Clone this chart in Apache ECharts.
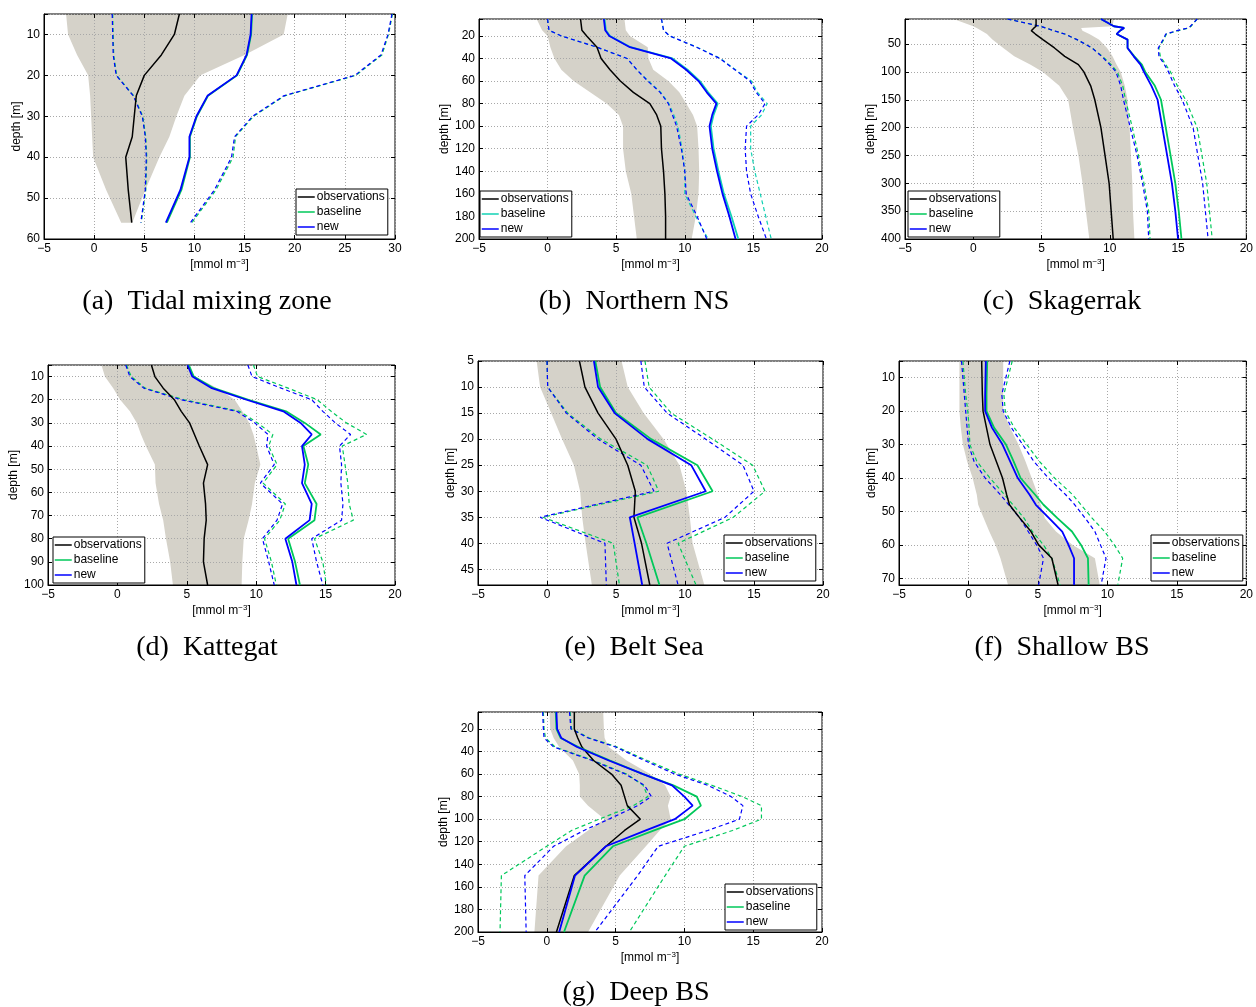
<!DOCTYPE html>
<html>
<head>
<meta charset="utf-8">
<script src="https://cdn.jsdelivr.net/npm/echarts@6/dist/echarts.min.js"></script>
<style>
  html, body { margin: 0; background: #fff; }
  #chart { width: 1256px; height: 1007px; }
</style>
</head>
<body>
<div id="chart"></div>
<script>
// (a) Tidal mixing zone
const aDepth = [5, 10, 15, 20, 25, 30, 35, 40, 48, 56];
const aObs = [8.5, 8.0, 6.7, 5.0, 4.2, 4.0, 3.8, 3.15, 3.4, 3.75];
const aBase = [15.75, 15.65, 15.25, 14.25, 11.35, 10.25, 9.55, 9.55, 8.7, 7.25];
const aNew = [15.7, 15.6, 15.2, 14.2, 11.3, 10.2, 9.5, 9.5, 8.6, 7.15];
const aBaseLo = [1.85, 1.9, 1.95, 2.25, 3.95, 4.85, 5.15, 5.25, 5.15, 4.7];
const aNewLo = [1.8, 1.85, 1.9, 2.2, 3.9, 4.8, 5.1, 5.2, 5.1, 4.65];
const aBaseHi = [29.75, 29.35, 28.7, 26.1, 19.0, 15.9, 14.1, 13.85, 12.15, 9.75];
const aNewHi = [29.7, 29.3, 28.6, 26.0, 18.9, 15.8, 14.0, 13.7, 12.0, 9.6];
const aBandLo = [-2.8, -2.6, -1.7, -0.6, -0.4, -0.3, -0.2, -0.1, 1.2, 2.7];
const aBandHi = [19.3, 18.9, 15.0, 10.6, 9.0, 8.2, 7.5, 6.5, 5.1, 3.8];

// (b) Northern NS
const bDepth = [5, 15, 20, 30, 40, 50, 60, 70, 80, 90, 100, 120, 140, 160, 180, 200];
const bObs = [2.4, 2.5, 2.85, 3.6, 3.9, 4.55, 5.3, 6.25, 7.45, 7.95, 8.25, 8.3, 8.45, 8.55, 8.6, 8.6];
const bBase = [4.15, 4.25, 4.55, 6.05, 9.1, 10.2, 11.1, 11.7, 12.4, 12.1, 11.9, 12.1, 12.45, 12.85, 13.4, 13.9];
const bNew = [4.1, 4.2, 4.5, 6.0, 9.0, 10.1, 11.0, 11.6, 12.3, 12.0, 11.8, 12.0, 12.35, 12.75, 13.25, 13.7];
const bBaseLo = [0, 0.1, 1.0, 3.6, 5.8, 6.5, 7.35, 8.25, 8.85, 9.2, 9.5, 9.8, 10.0, 10.0, 10.8, 11.7];
const bNewLo = [0, 0.1, 1.0, 3.6, 5.8, 6.5, 7.3, 8.2, 8.8, 9.1, 9.4, 9.75, 10.0, 10.1, 10.9, 11.6];
const bBaseHi = [8.3, 8.45, 8.9, 10.9, 12.6, 13.7, 14.85, 15.3, 16.0, 15.6, 14.8, 14.8, 15.1, 15.5, 15.9, 16.3];
const bNewHi = [8.3, 8.45, 8.9, 10.85, 12.55, 13.65, 14.75, 15.2, 15.85, 15.35, 14.5, 14.4, 14.5, 14.8, 15.35, 15.95];
const bBandLo = [-0.8, -0.4, 0, 0.2, 0.5, 1.0, 1.9, 3.1, 4.3, 5.2, 5.5, 5.5, 5.7, 6.1, 6.3, 6.5];
const bBandHi = [5.6, 5.7, 6.0, 7.3, 7.35, 7.7, 8.8, 9.6, 10.1, 10.6, 10.9, 11.0, 11.05, 11.0, 10.8, 10.5];

// (c) Skagerrak
const cDepth = [5, 18, 21, 26, 32, 42, 57, 72, 87, 100, 125, 150, 200, 250, 300, 350, 400];
const cObs = [4.6, 4.6, 4.45, 4.25, 4.55, 5.1, 5.95, 6.7, 7.7, 8.1, 8.6, 8.9, 9.35, 9.65, 9.95, 10.1, 10.25];
const cBase = [9.35, 10.3, 11.05, 10.75, 10.5, 11.3, 11.3, 11.8, 12.35, 12.6, 13.3, 13.75, 14.1, 14.45, 14.8, 15.05, 15.25];
const cNew = [9.35, 10.3, 11.05, 10.75, 10.5, 11.3, 11.3, 11.75, 12.25, 12.5, 13.05, 13.5, 13.85, 14.2, 14.55, 14.8, 15.0];
const cBaseLo = [2.5, 4.9, 5.3, 5.9, 6.7, 7.6, 8.7, 9.45, 10.1, 10.55, 10.95, 11.15, 11.65, 12.1, 12.5, 12.85, 12.95];
const cNewLo = [2.5, 4.9, 5.3, 5.9, 6.7, 7.6, 8.7, 9.4, 10.0, 10.45, 10.8, 11.0, 11.5, 12.0, 12.4, 12.75, 12.85];
const cBaseHi = [16.4, 15.95, 15.8, 15.0, 14.15, 13.95, 13.6, 13.7, 14.1, 14.45, 14.95, 15.55, 16.4, 16.75, 17.1, 17.3, 17.5];
const cNewHi = [16.4, 15.9, 15.75, 14.9, 14.1, 13.9, 13.55, 13.6, 14.0, 14.3, 14.75, 15.3, 16.1, 16.45, 16.8, 17.0, 17.2];
const cBandLo = [-1.45, 0, 0.25, 0.6, 1.0, 1.4, 2.2, 3.0, 4.2, 5.1, 6.3, 6.95, 7.3, 7.7, 8.0, 8.25, 8.5];
const cBandHi = [10.3, 10.2, 7.9, 8.0, 8.5, 9.2, 9.8, 10.2, 10.5, 10.8, 11.1, 11.3, 11.45, 11.55, 11.65, 11.7, 11.8];

// (d) Kattegat
const dDepth = [5, 10, 15, 20, 25, 30, 35, 40, 48, 56, 65, 72, 80, 90, 100];
const dObs = [2.45, 2.7, 3.3, 4.1, 4.6, 5.2, 5.55, 5.9, 6.5, 6.2, 6.35, 6.4, 6.25, 6.2, 6.5];
const dBase = [5.15, 5.5, 6.95, 9.45, 12.15, 13.5, 14.65, 13.4, 13.75, 13.5, 14.35, 14.2, 12.3, 12.8, 13.15];
const dNew = [5.05, 5.4, 6.8, 9.3, 11.95, 13.2, 14.0, 13.3, 13.5, 13.3, 14.0, 13.85, 12.1, 12.6, 12.9];
const dBaseLo = [0.65, 1.0, 2.0, 4.8, 8.8, 10.1, 11.2, 10.9, 11.5, 10.5, 12.1, 11.7, 10.6, 11.1, 11.45];
const dNewLo = [0.6, 0.9, 1.9, 4.6, 8.6, 9.9, 10.85, 10.75, 11.3, 10.3, 11.9, 11.5, 10.45, 10.9, 11.3];
const dBaseHi = [9.8, 10.1, 12.3, 14.4, 15.4, 16.5, 17.95, 16.2, 16.4, 16.6, 16.7, 17.0, 14.2, 14.8, 15.05];
const dNewHi = [9.4, 9.7, 11.8, 14.0, 14.8, 15.7, 16.8, 16.0, 16.15, 16.1, 16.25, 16.15, 14.0, 14.35, 14.8];
const dBandLo = [-1.15, -0.9, -0.3, 0.2, 0.9, 1.4, 1.7, 2.05, 2.7, 2.75, 3.0, 3.3, 3.5, 3.8, 4.0];
const dBandHi = [5.0, 5.6, 7.2, 8.45, 9.0, 9.5, 9.8, 10.0, 10.3, 9.9, 9.7, 9.45, 9.1, 9.0, 8.95];

// (e) Belt Sea
const eDepth = [5, 10, 15, 20, 25, 30, 35, 40, 48];
const eObs = [2.35, 2.75, 3.7, 5.0, 5.85, 6.4, 6.3, 6.85, 7.45];
const eBase = [3.5, 3.85, 5.0, 7.55, 10.9, 12.0, 6.55, 7.2, 8.15];
const eNew = [3.4, 3.7, 4.9, 7.3, 10.45, 11.5, 6.0, 6.35, 6.9];
const eBaseLo = [0, 0.05, 1.5, 3.9, 7.25, 8.1, -0.3, 4.8, 5.25];
const eNewLo = [0, 0.05, 1.4, 3.7, 6.8, 7.75, -0.5, 4.2, 4.3];
const eBaseHi = [7.1, 7.4, 9.0, 12.0, 14.9, 15.8, 13.5, 9.5, 10.8];
const eNewHi = [6.8, 7.05, 8.7, 11.5, 14.2, 15.0, 12.9, 8.7, 9.5];
const eBandLo = [-0.75, -0.5, 0.3, 1.1, 1.95, 2.4, 2.55, 2.8, 3.25];
const eBandHi = [5.4, 5.85, 7.0, 8.45, 9.6, 10.1, 10.35, 10.55, 11.4];

// (f) Shallow BS
const fDepth = [5, 15, 20, 25, 30, 35, 40, 45, 48, 52, 56, 60, 64, 72];
const fObs = [0.95, 1.0, 1.05, 1.3, 1.55, 2.0, 2.45, 2.75, 2.95, 3.7, 4.5, 5.05, 6.0, 6.45];
const fBase = [1.35, 1.3, 1.3, 1.85, 2.7, 3.25, 3.75, 4.8, 5.4, 6.4, 7.45, 8.1, 8.6, 8.65];
const fNew = [1.25, 1.2, 1.2, 1.7, 2.45, 3.0, 3.55, 4.4, 4.85, 5.8, 6.75, 7.2, 7.6, 7.6];
const fBaseLo = [-0.4, -0.2, -0.05, 0.05, 0.1, 0.6, 1.55, 2.6, 3.2, 4.0, 4.6, 5.4, 6.0, 6.6];
const fNewLo = [-0.5, -0.3, -0.2, -0.1, 0.0, 0.4, 1.2, 2.3, 2.9, 3.7, 4.3, 4.9, 5.4, 5.05];
const fBaseHi = [3.15, 2.55, 2.65, 3.3, 4.2, 5.1, 6.2, 7.5, 8.1, 8.9, 9.8, 10.5, 11.1, 10.75];
const fNewHi = [2.98, 2.4, 2.5, 3.1, 3.9, 4.7, 5.75, 7.0, 7.65, 8.4, 9.1, 9.5, 9.9, 9.55];
const fBandLo = [-0.65, -0.65, -0.65, -0.55, -0.4, -0.1, 0.3, 0.6, 0.7, 1.1, 1.5, 1.95, 2.3, 2.85];
const fBandHi = [2.5, 2.5, 2.5, 3.0, 3.6, 4.1, 4.55, 5.0, 5.2, 5.5, 6.3, 7.5, 9.1, 9.45];

// (g) Deep BS
const gDepth = [5, 20, 28, 36, 48, 60, 70, 80, 88, 100, 110, 124, 150, 200];
const gObs = [2.0, 2.0, 2.25, 2.55, 3.4, 4.7, 5.4, 5.65, 5.85, 6.8, 5.65, 4.3, 2.0, 0.7];
const gBase = [0.65, 0.7, 1.0, 2.3, 4.6, 7.0, 9.2, 10.9, 11.2, 10.0, 7.8, 4.8, 2.75, 1.25];
const gNew = [0.7, 0.75, 1.05, 2.2, 4.5, 7.0, 9.1, 10.0, 10.6, 9.3, 7.2, 4.3, 2.05, 0.9];
const gBaseLo = [-0.25, -0.2, -0.1, 0.6, 3.4, 5.8, 7.0, 7.35, 6.3, 3.8, 1.8, 0.0, -3.3, -3.4];
const gNewLo = [-0.3, -0.25, -0.2, 0.5, 3.3, 5.7, 7.1, 7.6, 6.6, 4.5, 2.7, 0.5, -1.6, -1.5];
const gBaseHi = [1.7, 1.8, 3.1, 5.1, 7.3, 9.6, 12.0, 14.2, 15.6, 15.6, 13.5, 10.0, 8.6, 6.0];
const gNewHi = [1.65, 1.75, 3.0, 5.0, 7.1, 9.3, 11.7, 13.4, 14.25, 14.0, 11.7, 8.1, 6.6, 3.5];
const gBandLo = [0.2, 0.25, 0.5, 0.9, 1.9, 2.35, 2.4, 2.4, 3.0, 4.2, 3.0, 1.4, -0.6, -0.9];
const gBandHi = [4.1, 4.15, 4.2, 4.5, 5.8, 7.5, 8.6, 9.0, 8.8, 9.0, 8.2, 7.2, 5.3, 3.0];

const GRAY = '#d5d2c9';
const GREEN = '#00c85a';
const TEAL = '#12d2b4';
const BLUE = '#0000ff';
const SANS = '"Liberation Sans", Arial, sans-serif';

const panels = [
  { caption: '(a)  Tidal mixing zone', cap: [207, 302], grid: [44, 14, 351, 225], xMax: 30, yMax: 60, yStep: 10, legend: [296, 189], green: GREEN,
    depth: aDepth, obs: aObs, base: aBase, neu: aNew, baseLo: aBaseLo, newLo: aNewLo, baseHi: aBaseHi, newHi: aNewHi, bandLo: aBandLo, bandHi: aBandHi },
  { caption: '(b)  Northern NS', cap: [634, 302], grid: [479, 19, 343, 220], xMax: 20, yMax: 200, yStep: 20, legend: [480, 191], green: TEAL,
    depth: bDepth, obs: bObs, base: bBase, neu: bNew, baseLo: bBaseLo, newLo: bNewLo, baseHi: bBaseHi, newHi: bNewHi, bandLo: bBandLo, bandHi: bBandHi },
  { caption: '(c)  Skagerrak', cap: [1062, 302], grid: [905, 19, 345, 220], xMax: 20, yMax: 400, yStep: 50, legend: [908, 191], green: GREEN,
    depth: cDepth, obs: cObs, base: cBase, neu: cNew, baseLo: cBaseLo, newLo: cNewLo, baseHi: cBaseHi, newHi: cNewHi, bandLo: cBandLo, bandHi: cBandHi },
  { caption: '(d)  Kattegat', cap: [207, 648], grid: [48, 365, 347, 220], xMax: 20, yMax: 100, yStep: 10, legend: [53, 537], green: GREEN,
    depth: dDepth, obs: dObs, base: dBase, neu: dNew, baseLo: dBaseLo, newLo: dNewLo, baseHi: dBaseHi, newHi: dNewHi, bandLo: dBandLo, bandHi: dBandHi },
  { caption: '(e)  Belt Sea', cap: [634, 648], grid: [478, 361, 345, 224], xMax: 20, yMax: 48, yStep: 5, legend: [724, 535], green: GREEN,
    depth: eDepth, obs: eObs, base: eBase, neu: eNew, baseLo: eBaseLo, newLo: eNewLo, baseHi: eBaseHi, newHi: eNewHi, bandLo: eBandLo, bandHi: eBandHi },
  { caption: '(f)  Shallow BS', cap: [1062, 648], grid: [899, 361, 350, 224], xMax: 20, yMax: 72, yStep: 10, legend: [1151, 535], green: GREEN,
    depth: fDepth, obs: fObs, base: fBase, neu: fNew, baseLo: fBaseLo, newLo: fNewLo, baseHi: fBaseHi, newHi: fNewHi, bandLo: fBandLo, bandHi: fBandHi },
  { caption: '(g)  Deep BS', cap: [636, 993], grid: [478, 712, 344, 220], xMax: 20, yMax: 200, yStep: 20, legend: [725, 884], green: GREEN,
    depth: gDepth, obs: gObs, base: gBase, neu: gNew, baseLo: gBaseLo, newLo: gNewLo, baseHi: gBaseHi, newHi: gNewHi, bandLo: gBandLo, bandHi: gBandHi },
];

const onStep = (v, step) => Math.abs(v / step - Math.round(v / step)) < 1e-6;
const minus = (v) => String(v).replace('-', '\u2212');
const tick = { show: true, inside: true, length: 4, lineStyle: { color: '#000' } };
const dotted = { show: true, lineStyle: { color: '#a8a8a8', type: [1, 2], width: 1 } };

const grids = [], xAxes = [], yAxes = [], series = [], legends = [], texts = [];

panels.forEach((p, k) => {
  grids.push({ left: p.grid[0], top: p.grid[1], width: p.grid[2], height: p.grid[3],
    show: true, borderColor: '#000', borderWidth: 1, containLabel: false });

  const xBase = { type: 'value', gridIndex: k, min: -5, max: p.xMax, minInterval: 5, maxInterval: 5 };
  xAxes.push({ ...xBase, position: 'bottom',
    axisLine: { show: true, onZero: false, lineStyle: { color: '#000' } }, axisTick: tick, splitLine: dotted,
    axisLabel: { color: '#000', fontSize: 12, fontFamily: SANS, margin: 4, formatter: minus },
    name: '{a|[mmol m}{s|\u22123}{a|]}', nameLocation: 'middle', nameGap: 19,
    nameTextStyle: { rich: { a: { fontSize: 12, fontFamily: SANS, color: '#000', lineHeight: 14 },
      s: { fontSize: 8, fontFamily: SANS, color: '#000', verticalAlign: 'top', lineHeight: 14 } } } });
  xAxes.push({ ...xBase, position: 'top', axisLine: { show: false, onZero: false }, axisTick: tick,
    axisLabel: { show: false }, splitLine: { show: false } });

  const yBase = { type: 'value', gridIndex: k, inverse: true, min: 5, max: p.yMax, minInterval: p.yStep, maxInterval: p.yStep };
  yAxes.push({ ...yBase, position: 'left',
    axisLine: { show: true, onZero: false, lineStyle: { color: '#000' } }, axisTick: tick, splitLine: dotted,
    axisLabel: { color: '#000', fontSize: 12, fontFamily: SANS, margin: 4,
      formatter: (v) => (onStep(v, p.yStep) ? String(v) : '') },
    name: 'depth [m]', nameLocation: 'middle', nameGap: 20,
    nameTextStyle: { color: '#000', fontSize: 12, fontFamily: SANS } });
  yAxes.push({ ...yBase, position: 'right', axisLine: { show: false, onZero: false }, axisTick: tick,
    axisLabel: { show: false }, splitLine: { show: false } });

  const ax = { xAxisIndex: 2 * k, yAxisIndex: 2 * k };

  // grey spread of the observations
  series.push({
    type: 'custom', ...ax, z: -1, silent: true, animation: false,
    data: p.depth.map((d, i) => [p.bandLo[i], d, p.bandHi[i]]),
    encode: { x: [0, 2], y: 1 },
    renderItem: (params, api) => {
      if (params.dataIndex !== 0) return null;
      const pts = p.depth.map((d, i) => api.coord([p.bandLo[i], d]));
      for (let i = p.depth.length - 1; i >= 0; i--) pts.push(api.coord([p.bandHi[i], p.depth[i]]));
      return { type: 'polygon', shape: { points: pts }, style: { fill: GRAY } };
    },
  });

  const line = (name, vals, color, width, dashed) => ({
    type: 'line', name, ...ax, silent: true, animation: false, symbol: 'none',
    data: p.depth.map((d, i) => [vals[i], d]),
    lineStyle: { color, width, type: dashed ? [4, 3] : 'solid' },
    itemStyle: { color },
  });

  series.push(line('baseline lo', p.baseLo, p.green, 1.2, true));
  series.push(line('baseline hi', p.baseHi, p.green, 1.2, true));
  series.push(line('new lo', p.newLo, BLUE, 1.2, true));
  series.push(line('new hi', p.newHi, BLUE, 1.2, true));
  series.push(line('observations', p.obs, '#000', 1.5, false));
  series.push(line('baseline', p.base, p.green, 1.8, false));
  series.push(line('new', p.neu, BLUE, 1.8, false));

  const item = (name, color) => ({ name,
    itemStyle: { color: 'rgba(0,0,0,0)', borderWidth: 0, opacity: 0 },
    lineStyle: { color, width: 1.5, opacity: 1 } });
  legends.push({
    left: p.legend[0], top: p.legend[1], orient: 'vertical', selectedMode: false,
    data: [item('observations', '#000'), item('baseline', p.green), item('new', BLUE)],
    itemWidth: 17, itemHeight: 2, itemGap: 1, padding: [1, 3, 1, 1],
    backgroundColor: '#fff', borderColor: '#000', borderWidth: 1,
    textStyle: { color: '#000', fontSize: 12, fontFamily: SANS, lineHeight: 14, padding: [0, 0, 0, -3] },
  });

  texts.push({
    type: 'text', x: p.cap[0], y: p.cap[1],
    style: { text: p.caption, font: '28px "Liberation Serif", "DejaVu Serif", serif', fill: '#000',
      align: 'center', verticalAlign: 'middle', textAlign: 'center', textVerticalAlign: 'middle' },
  });
});

const chart = echarts.init(document.getElementById('chart'), null, { renderer: 'canvas' });
chart.setOption({
  animation: false,
  backgroundColor: '#fff',
  grid: grids,
  xAxis: xAxes,
  yAxis: yAxes,
  legend: legends,
  graphic: texts,
  series,
});
</script>
</body>
</html>
